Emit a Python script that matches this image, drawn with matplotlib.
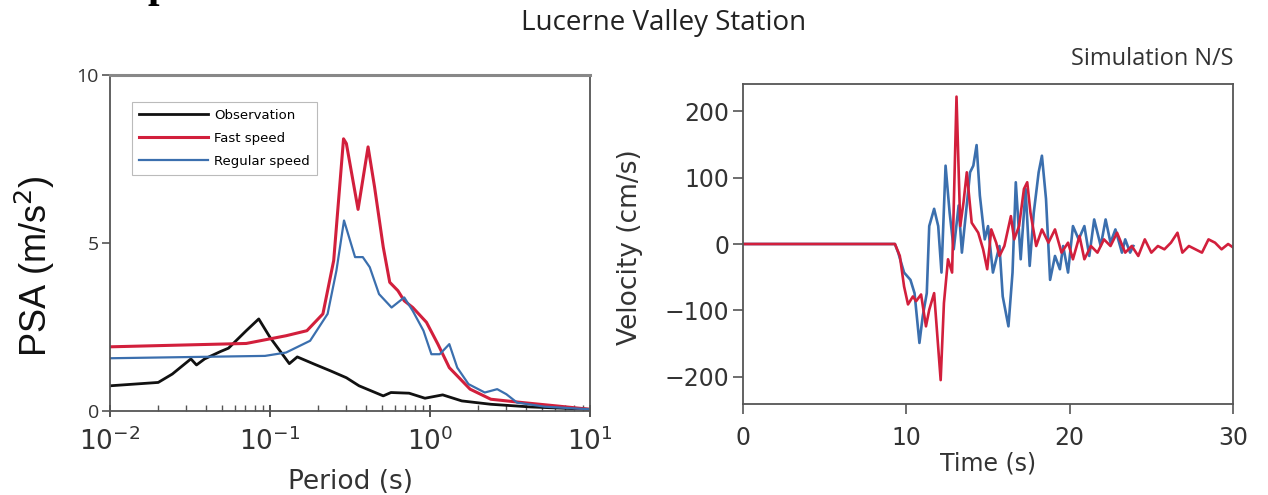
import numpy as np
import matplotlib
matplotlib.use("Agg")
import matplotlib.pyplot as plt
from matplotlib.ticker import LogLocator, NullFormatter

# ---- Response spectra (PSA vs period) ----
obs_period = [0.01, 0.020, 0.0245, 0.032, 0.0347, 0.039, 0.049, 0.055, 0.071, 0.085,
              0.10, 0.132, 0.148, 0.19, 0.24, 0.30, 0.36, 0.51, 0.57, 0.74,
              0.93, 1.20, 1.58, 2.40, 4.27, 10.0]
obs_psa = [0.75, 0.85, 1.10, 1.55, 1.37, 1.55, 1.77, 1.87, 2.39, 2.74,
           2.19, 1.41, 1.61, 1.39, 1.19, 0.99, 0.75, 0.45, 0.55, 0.53,
           0.38, 0.48, 0.30, 0.20, 0.12, 0.05]

fast_period = [0.01, 0.071, 0.126, 0.17, 0.214, 0.25, 0.288, 0.30, 0.355, 0.41,
               0.45, 0.51, 0.56, 0.63, 0.69, 0.78, 0.95, 1.12, 1.32, 1.78,
               2.40, 3.80, 6.20, 10.0]
fast_psa = [1.91, 2.01, 2.24, 2.39, 2.89, 4.48, 8.10, 7.96, 6.00, 7.86,
            6.67, 4.88, 3.83, 3.58, 3.28, 3.08, 2.64, 1.99, 1.29, 0.65,
            0.35, 0.25, 0.15, 0.05]

reg_period = [0.01, 0.093, 0.126, 0.178, 0.229, 0.26, 0.29, 0.34, 0.38, 0.42,
              0.48, 0.575, 0.69, 0.78, 0.91, 1.02, 1.15, 1.32, 1.48, 1.74,
              2.20, 2.63, 3.0, 3.5, 5.2, 10.0]
reg_psa = [1.57, 1.64, 1.74, 2.09, 2.89, 4.18, 5.67, 4.58, 4.58, 4.28,
           3.48, 3.08, 3.38, 2.98, 2.39, 1.69, 1.69, 1.99, 1.29, 0.80,
           0.55, 0.65, 0.50, 0.25, 0.13, 0.05]

# ---- Simulated N/S velocity time series ----
fast_t = [0, 9.0, 9.3, 9.6, 9.86, 10.1, 10.4, 10.6, 10.9, 11.2, 11.4, 11.7, 12.1,
          12.3, 12.55, 12.8, 13.07, 13.3, 13.5, 13.7, 14.0, 14.4, 14.7, 14.95,
          15.2, 15.5, 15.7, 16.0, 16.4, 16.6, 16.9, 17.2, 17.4, 17.6, 17.95,
          18.3, 18.7, 19.1, 19.5, 19.9, 20.2, 20.6, 20.9, 21.3, 21.7, 22.1,
          22.5, 22.9, 23.4, 23.8, 24.2, 24.6, 25.0, 25.4, 25.8, 26.2, 26.6,
          26.9, 27.3, 27.7, 28.1, 28.5, 28.9, 29.3, 29.7, 30.0]
fast_v = [0, 0, 0, -18, -64, -91, -79, -86, -76, -124, -99, -74, -205,
          -89, -23, -43, 222, 27, 63, 108, 32, 17, -8, -38,
          22, 2, -18, -3, 42, 7, 27, 83, 93, 47, -3,
          22, 2, 22, -13, 2, -23, 12, -23, -3, -13, 7,
          -3, 17, -13, -3, -18, 7, -13, -3, -8, 2, 17,
          -13, -3, -8, -13, 7, 2, -8, 0, -5]

reg_t = [0, 9.0, 9.3, 9.5, 9.86, 10.25, 10.5, 10.8, 11.0, 11.25, 11.4, 11.7,
         11.95, 12.15, 12.4, 12.65, 12.9, 13.2, 13.4, 13.65, 13.9, 14.1, 14.3,
         14.5, 14.8, 15.0, 15.3, 15.7, 15.9, 16.25, 16.5, 16.7, 17.0, 17.3,
         17.55, 17.8, 18.1, 18.3, 18.55, 18.8, 19.1, 19.4, 19.6, 19.9, 20.2,
         20.55, 20.9, 21.2, 21.5, 21.9, 22.2, 22.5, 22.8, 23.2, 23.4, 23.7, 23.9]
reg_v = [0, 0, 0, -13, -43, -54, -74, -149, -109, -74, 27, 53,
         27, -43, 118, 47, -8, 58, -13, 47, 108, 118, 149,
         73, 7, 27, -43, -3, -79, -124, -43, 93, -23, 83,
         -33, 47, 108, 133, 68, -54, -18, -38, -3, -43, 27,
         7, 27, -18, 37, -3, 37, 2, 22, -13, 7, -13, -3]

series_labels = ["Observation", "Fast speed", "Regular speed"]
C_OBS = "#111111"
C_FAST = "#d21f3c"
C_REG = "#3b6fae"
SPINE = "#555555"
TXT = "#333333"

fig = plt.figure(figsize=(12.68, 4.95), dpi=100)

# fragment of a large serif heading above the panels
fig.text(0.116, 1.0 + 0.006, "p", fontsize=30, family="Liberation Serif",
         fontweight="bold", ha="left", va="baseline", color="black")

fig.text(0.523, 0.953, "Lucerne Valley Station", fontsize=20, family="Open Sans",
         ha="center", va="center", color="#222222")

# ---------------- left panel ----------------
ax1 = fig.add_axes([0.0868, 0.1697, 0.3785, 0.6788])
ax1.plot(obs_period, obs_psa, color=C_OBS, lw=2.0, label=series_labels[0])
ax1.plot(fast_period, fast_psa, color=C_FAST, lw=2.2, label=series_labels[1])
ax1.plot(reg_period, reg_psa, color=C_REG, lw=1.6, label=series_labels[2])
ax1.set_xscale("log")
ax1.set_xlim(0.01, 10)
ax1.set_ylim(0, 10)
ax1.set_yticks([0, 5, 10])
ax1.set_yticklabels(["0", "5", "10"], family="Open Sans", fontsize=14, color=TXT)
ax1.xaxis.set_minor_locator(LogLocator(base=10, subs=np.arange(2, 10)))
ax1.xaxis.set_minor_formatter(NullFormatter())
ax1.tick_params(axis="x", which="major", direction="inout", length=8, width=1.2,
                labelsize=19, colors=TXT, pad=8)
ax1.tick_params(axis="x", which="minor", direction="in", length=4, width=1.0, colors=SPINE)
ax1.tick_params(axis="y", direction="out", length=6, width=1.2, colors=SPINE,
                labelcolor=TXT, pad=2)
for s in ax1.spines.values():
    s.set_color(SPINE)
    s.set_linewidth(1.3)
ax1.spines["top"].set_color("#888888")
ax1.spines["top"].set_linewidth(2.2)
ax1.set_xlabel("Period (s)", fontsize=19, color=TXT, labelpad=9)
ax1.set_ylabel("PSA (m/s$^2$)", fontsize=26, family="Liberation Sans", color="#111111")
ax1.yaxis.set_label_coords(-0.11, 0.43)
leg = ax1.legend(loc="upper left", bbox_to_anchor=(0.032, 0.94), fontsize=9.5,
                 frameon=True, fancybox=False, handlelength=5.2, handletextpad=0.5,
                 borderpad=0.55, labelspacing=0.75)
leg.get_frame().set_edgecolor("#aaaaaa")
leg.get_frame().set_linewidth(0.8)

# ---------------- right panel ----------------
ax2 = fig.add_axes([0.586, 0.1838, 0.3864, 0.6465])
ax2.plot(reg_t, reg_v, color=C_REG, lw=1.9)
ax2.plot(fast_t, fast_v, color=C_FAST, lw=1.9)
ax2.set_xlim(0, 30)
ax2.set_ylim(-241, 241)
ax2.set_xticks([0, 10, 20, 30])
ax2.set_yticks([-200, -100, 0, 100, 200])
ax2.set_yticklabels(["\u2212200", "\u2212100", "0", "100", "200"])
ax2.tick_params(direction="out", length=7, width=1.2, colors=SPINE, labelcolor=TXT,
                labelsize=17, pad=3)
ax2.tick_params(axis="x", pad=9)
for s in ax2.spines.values():
    s.set_color(SPINE)
    s.set_linewidth(1.3)
ax2.set_xlabel("Time (s)", fontsize=17, color=TXT, labelpad=1)
ax2.set_ylabel("Velocity (cm/s)", fontsize=19, color=TXT)
ax2.yaxis.set_label_coords(-0.205, 0.49)
ax2.text(1.0, 1.04, "Simulation N/S", transform=ax2.transAxes, ha="right",
         va="bottom", fontsize=17, family="Open Sans", color=TXT)

fig.savefig("out.png", dpi=100)
